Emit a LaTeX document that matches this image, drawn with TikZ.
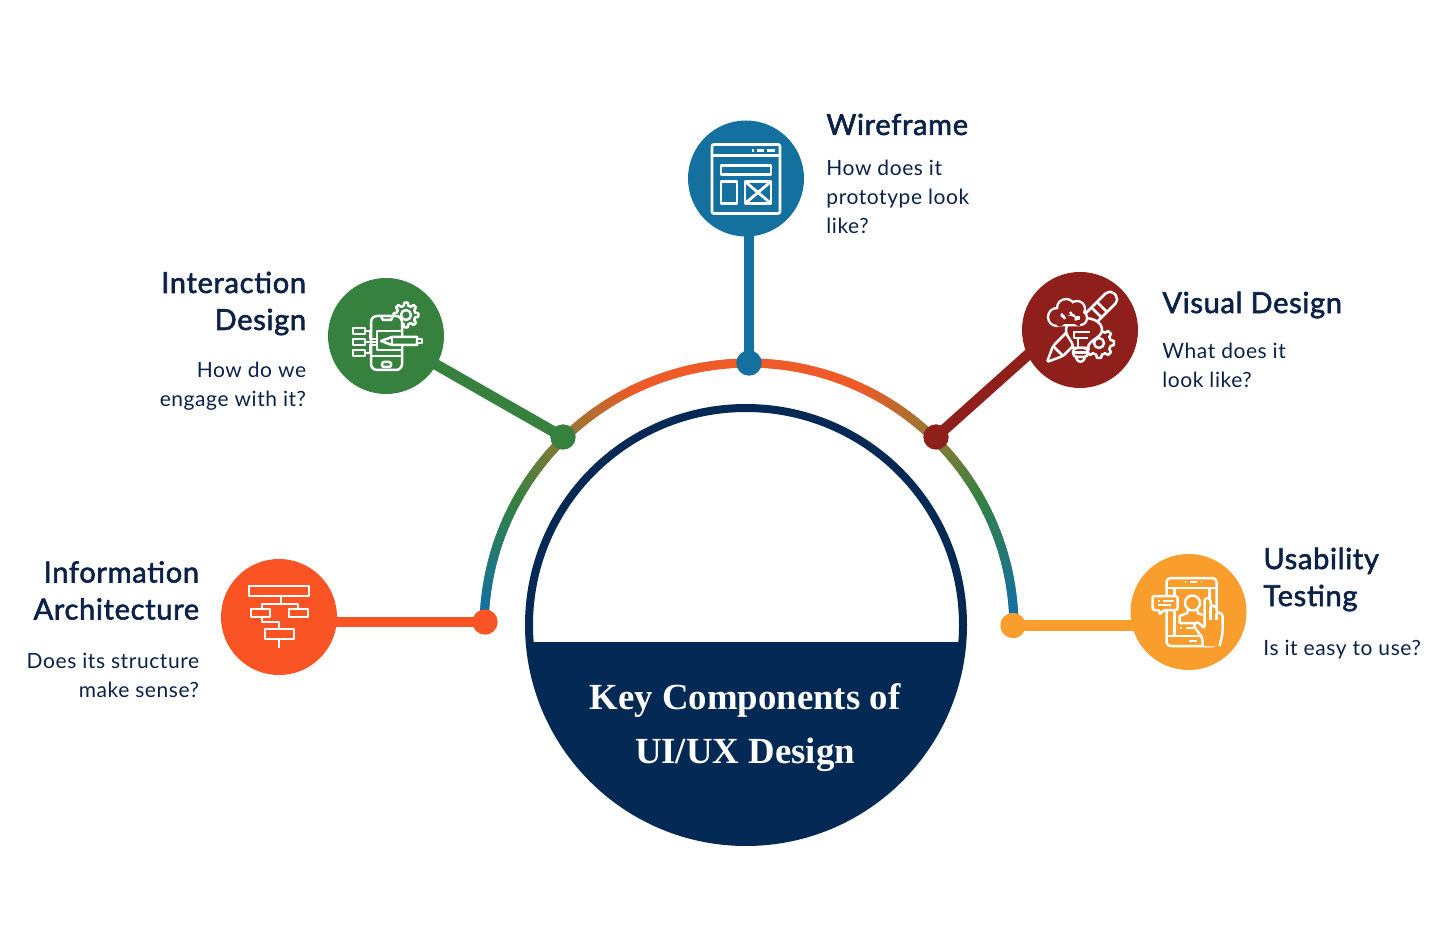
\documentclass[tikz,border=0pt]{standalone}
\usepackage{fontspec}
\setmainfont{Lato}
\newfontfamily\serifhead{Liberation Serif}
\newfontfamily\titlefont[LetterSpace=2.4,FakeBold=2]{Lato}
\newfontfamily\bodyfont[LetterSpace=2.7]{Lato}
\usetikzlibrary{backgrounds}
\definecolor{cOrange}{HTML}{FA5424}
\definecolor{cArc}{HTML}{EE5A28}
\definecolor{cOlive}{HTML}{8A7A35}
\definecolor{cGreen}{HTML}{37813F}
\definecolor{cBlue}{HTML}{14709E}
\definecolor{cRed}{HTML}{8E1F1B}
\definecolor{cYellow}{HTML}{F99D2C}
\definecolor{cNavy}{HTML}{052955}
\definecolor{cText}{HTML}{0B2148}
\tikzset{
  x=0.5pt,y=-0.5pt,
  bubble/.style={circle,minimum size=58pt,inner sep=0pt,outer sep=0pt,fill=#1},
  dotnode/.style={circle,minimum size=12.7pt,inner sep=0pt,outer sep=0pt,fill=#1},
  spoke/.style={line width=5.4pt,#1},
  icon/.style={white,line width=1.25pt,line join=round},
  titletext/.style={inner sep=0pt,text=cText,font=\fontsize{14.5}{18.5}\selectfont\titlefont},
  bodytext/.style={inner sep=0pt,text=cText,font=\fontsize{10.5}{14.5}\selectfont\bodyfont},
  headtext/.style={inner sep=0pt,text=white,font=\fontsize{18.4}{27}\selectfont\serifhead\bfseries,align=center},
}
\newcommand{\gearpath}[2]{% outer radius, inner radius
  (-8:#1) \foreach \g in {0,45,...,315}{
    -- (\g-8:#1) -- (\g+8:#1) -- (\g+14:#2) -- (\g+31:#2)
  } -- cycle}
\begin{document}
\begin{tikzpicture}
\useasboundingbox (0,0) rectangle (1456,946);

% hub
\node[circle,minimum size=217pt,inner sep=0pt,draw=cNavy,line width=4pt,fill=white] (hub) at (746,625) {};
\begin{scope}
  \clip (500,642) rectangle (1000,860);
  \fill[cNavy] (hub.center) circle[radius=217];
\end{scope}
\node[headtext] (head) at (745,728) {Key Components of\\UI/UX Design};

% gradient arc
\coordinate (arcc) at (749,628);
\foreach \a in {-178,-177,...,-2}{
  \pgfmathtruncatemacro{\u}{abs(\a+90)}
  \ifnum\u<25 \colorlet{segc}{cArc}\else
  \ifnum\u<45 \pgfmathtruncatemacro{\p}{(\u-25)*100/20}\colorlet{segc}{cOlive!\p!cArc}\else
  \ifnum\u<60 \pgfmathtruncatemacro{\p}{(\u-45)*100/15}\colorlet{segc}{cGreen!\p!cOlive}\else
  \pgfmathtruncatemacro{\p}{min(100,(\u-60)*100/25)}\colorlet{segc}{cBlue!\p!cGreen}\fi\fi\fi
  \draw[segc,line width=4.5pt] ([shift={(\a-0.6:265)}]arcc) -- ([shift={(\a+1.3:265)}]arcc);
}

% bubbles
\node[bubble=cOrange] (info) at (279,617) {};
\node[bubble=cGreen]  (inter) at (386,336) {};
\node[bubble=cBlue]   (wire) at (746,178.5) {};
\node[bubble=cRed]    (vis) at (1080,330) {};
\node[bubble=cYellow] (usab) at (1188.5,612) {};

% dots
\node[dotnode=cOrange] (dinfo) at (485,622) {};
\node[dotnode=cGreen]  (dinter) at (563,437) {};
\node[dotnode=cBlue]   (dwire) at (749,363) {};
\node[dotnode=cRed]    (dvis) at (936,437) {};
\node[dotnode=cYellow] (dusab) at (1013,625.5) {};

% connectors
\begin{pgfonlayer}{background}
\draw[spoke=cOrange] (dinfo.center) -- (dinfo -| info.center);
\draw[spoke=cGreen] (dinter.center) -- (inter.center);
\draw[spoke=cBlue] (dwire.center) -- (dwire |- wire.center);
\draw[spoke=cRed] (dvis.center) -- ([shift={(-30,5)}]vis.center);
\draw[spoke=cYellow] (dusab.center) -- (dusab -| usab.center);
\end{pgfonlayer}

% ---- icons
% information architecture
\begin{scope}[shift={(info.center)},icon]
  \draw (-30,-31) rectangle (30,-21);
  \draw (2,-21) -- (2,-13) (-17,-8) -- (-17,-13) -- (19,-13) -- (19,-8);
  \draw (-28,-8) rectangle (-9,0);
  \draw (10,-8) rectangle (29,0);
  \draw (-17,0) -- (-17,5) -- (0,5) -- (0,12);
  \draw (-14,12) rectangle (15,22);
  \draw (0,22) -- (0,31);
\end{scope}

% interaction design
\begin{scope}[shift={(inter.center)},icon]
  \draw[shift={(20,-21)}] \gearpath{12.5}{9.5};
  \draw[shift={(20,-21)}] (0,0) circle[radius=5];
  \draw[fill=cGreen,rounded corners=3pt] (-15,-20) rectangle (16,34);
  \draw (-5,-20) -- (-3,-16) -- (5,-16) -- (7,-20);
  \draw (-15,20) -- (16,20);
  \draw[rounded corners=1pt] (-4,26) rectangle (5,31);
  \draw[fill=cGreen] (-33,-8) rectangle (-21,-2);
  \draw[fill=cGreen] (-33,3) rectangle (-21,9);
  \draw[fill=cGreen] (-33,14) rectangle (-21,20);
  \draw (-21,-5) -- (-16,-5) -- (-16,3) -- (-9,3);
  \draw (-21,6) -- (-9,6);
  \draw (-21,17) -- (-16,17) -- (-16,9) -- (-9,9);
  \draw[fill=cGreen] (-9,-5) rectangle (16,14);
  \draw[fill=cGreen] (-5,5) -- (6,1) -- (31,1) -- (31,9) -- (6,9) -- cycle;
  \draw (6,1) -- (6,9);
  \draw[fill=cGreen] (31,3) rectangle (36,7);
\end{scope}

% wireframe
\begin{scope}[shift={(wire.center)},icon,line width=1.4pt]
  \draw[rounded corners=1pt] (-34,-34) rectangle (34,35);
  \draw (-34,-23) -- (34,-23);
  \draw (6,-28) -- (8,-28) (11,-28) -- (18,-28) (21,-28) -- (29,-28);
  \draw (-25,-13) rectangle (25,-4);
  \draw (-25,3) rectangle (-9,25);
  \draw (-1,3) rectangle (25,25);
  \draw (-1,3) -- (25,25) (-1,25) -- (25,3);
\end{scope}

% visual design
\begin{scope}[shift={(vis.center)},icon]
  \draw[rounded corners=1pt] (-33,32) -- (-27,16) -- (27,-38) -- (33,-38) -- (37,-33) -- (37,-28) -- (-17,26) -- cycle;
  \draw (-27,16) -- (-17,26);
  \draw (27,-18) -- (17,-28) (21.5,-12.5) -- (11.5,-22.5);
  % gear
  \draw[shift={(19,13)},fill=cRed] \gearpath{15}{12};
  \draw[shift={(19,13)}] (0,0) circle[radius=5];
  % bulb
  \draw[fill=cRed] (-7,18) .. controls (-7,10) and (-14,8) .. (-14,0) .. controls (-14,-16) and (22,-16) .. (22,0) .. controls (22,8) and (8,10) .. (8,18) -- cycle;
  \draw[fill=cRed,rounded corners=2pt] (-7,18) rectangle (8,27);
  \draw (-7,22.5) -- (8,22.5);
  \draw[rounded corners=2pt] (-4,27) -- (-3,32) -- (4,32) -- (5,27);
  \draw (10,2) -- (-6,2) -- (-6,8) -- (8,8) (-2,8) -- (-2,18);
  % cloud
  \fill[white] (-23,-13) circle[radius=10.2] (-14,-22) circle[radius=10.2] (-3,-21) circle[radius=9.2] (0,-12) circle[radius=8.2] (-23,-14) rectangle (0,-3.7);
  \fill[cRed] (-23,-13) circle[radius=7.8] (-14,-22) circle[radius=7.8] (-3,-21) circle[radius=6.8] (0,-12) circle[radius=5.8] (-23,-14) rectangle (0,-6.2);
  \draw (-19,-16) .. controls (-17,-15) and (-16,-13) .. (-15,-11);
  \draw (-10,-18) .. controls (-9,-15) and (-7,-14) .. (-5,-14);
\end{scope}

% usability testing
\begin{scope}[shift={(usab.center)},icon]
  \draw[rounded corners=2pt] (-22,-34) rectangle (28,34);
  \draw (-22,-24) -- (28,-24) (-22,24) -- (28,24);
  \draw (-4,-30) -- (-3,-30) (1,-30) -- (8,-30) (12,-30) -- (13,-30) (0,29) -- (8,29);
  \draw (-14,-24) -- (-14,-16) (-14,-2) -- (-14,24) (21,-24) -- (21,-14);
  \draw (-9,16) -- (-7,16) (-3,16) -- (6,16);
  % bubble
  \draw[fill=cYellow,rounded corners=1pt] (-36,-16) -- (-11,-16) -- (-11,-2) -- (-25,-2) -- (-29,3) -- (-29,-2) -- (-36,-2) -- cycle;
  \draw (-31,-11) -- (-29,-11) (-26,-11) -- (-15,-11) (-31,-7) -- (-18,-7);
  % person
  \draw (4,-9) circle[radius=7.5];
  \draw (-1,-2) -- (-1,1) -- (-9,4) -- (-9,11) -- (8,11);
  \draw (9,-2) -- (9,1) -- (14,3);
  % hand
  \draw[fill=cYellow,rounded corners=1.5pt] (14,34) -- (14,26) -- (5,14) -- (7,10) -- (11,11) -- (16,17) -- (16,-14) -- (22,-14) -- (22,-6) -- (28,-6) -- (28,1) -- (34,1) -- (34,22) -- (31,34);
  \draw (22,-6) -- (22,8) (28,1) -- (28,8);
\end{scope}

% ---- texts
\node[titletext,anchor=east,align=right] (t1) at (199.5,590.5) {Information\\Architecture};
\node[bodytext,anchor=east,align=right] (b1) at (199.5,675.5) {Does its structure\\make sense?};
\node[titletext,anchor=east,align=right] (t2) at (306.5,303.5) {Interaction\\Design};
\node[bodytext,anchor=east,align=right] (b2) at (306.5,386.5) {How do we\\engage with it?};
\node[titletext,anchor=west] (t3) at (826,124.5) {Wireframe};
\node[bodytext,anchor=west,align=left] (b3) at (826,197) {How does it\\prototype look\\like?};
\node[titletext,anchor=west] (t4) at (1162,305) {Visual Design};
\node[bodytext,anchor=west,align=left] (b4) at (1162,365.5) {What does it\\look like?};
\node[titletext,anchor=west,align=left] (t5) at (1263,579.5) {Usability\\Testing};
\node[bodytext,anchor=west] (b5) at (1263,650) {Is it easy to use?};
\end{tikzpicture}
\end{document}
